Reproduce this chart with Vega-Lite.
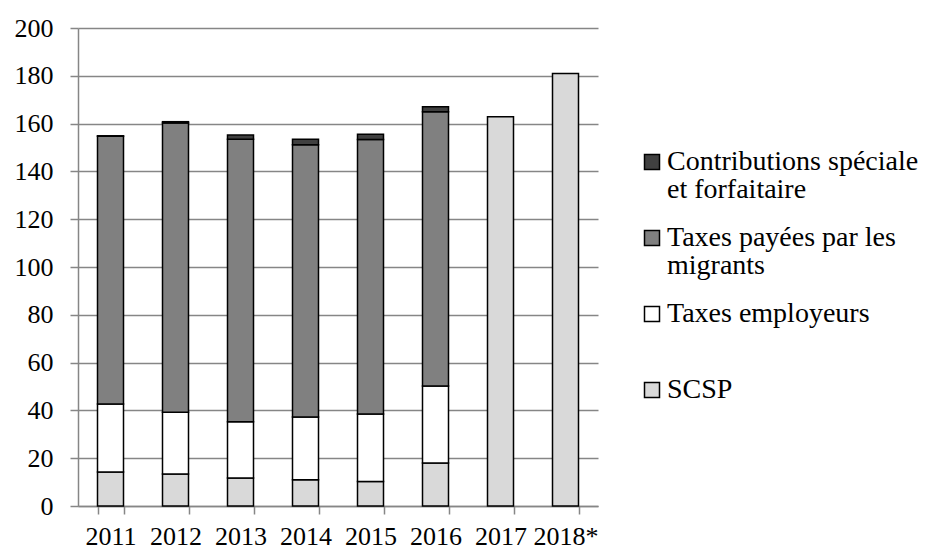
{
  "$schema": "https://vega.github.io/schema/vega-lite/v6.json",
  "autosize": {"type": "none"},
  "padding": {"left": 78, "top": 28, "right": 332, "bottom": 43},
  "width": 520,
  "height": 478,
  "background": "white",
  "config": {
    "view": {"stroke": null},
    "font": "Liberation Serif"
  },
  "data": {
    "values": [
      {"year": "2011", "category": "SCSP", "rank": 1, "value": 14.2},
      {"year": "2011", "category": "Taxes employeurs", "rank": 2, "value": 28.5},
      {"year": "2011", "category": "Taxes payées par les migrants", "rank": 3, "value": 112.0},
      {"year": "2011", "category": "Contributions spéciale et forfaitaire", "rank": 4, "value": 0.2},
      {"year": "2012", "category": "SCSP", "rank": 1, "value": 13.4},
      {"year": "2012", "category": "Taxes employeurs", "rank": 2, "value": 25.8},
      {"year": "2012", "category": "Taxes payées par les migrants", "rank": 3, "value": 121.1},
      {"year": "2012", "category": "Contributions spéciale et forfaitaire", "rank": 4, "value": 0.5},
      {"year": "2013", "category": "SCSP", "rank": 1, "value": 11.7},
      {"year": "2013", "category": "Taxes employeurs", "rank": 2, "value": 23.6},
      {"year": "2013", "category": "Taxes payées par les migrants", "rank": 3, "value": 118.2},
      {"year": "2013", "category": "Contributions spéciale et forfaitaire", "rank": 4, "value": 1.7},
      {"year": "2014", "category": "SCSP", "rank": 1, "value": 11.0},
      {"year": "2014", "category": "Taxes employeurs", "rank": 2, "value": 26.2},
      {"year": "2014", "category": "Taxes payées par les migrants", "rank": 3, "value": 114.0},
      {"year": "2014", "category": "Contributions spéciale et forfaitaire", "rank": 4, "value": 2.2},
      {"year": "2015", "category": "SCSP", "rank": 1, "value": 10.3},
      {"year": "2015", "category": "Taxes employeurs", "rank": 2, "value": 28.2},
      {"year": "2015", "category": "Taxes payées par les migrants", "rank": 3, "value": 114.8},
      {"year": "2015", "category": "Contributions spéciale et forfaitaire", "rank": 4, "value": 2.2},
      {"year": "2016", "category": "SCSP", "rank": 1, "value": 18.0},
      {"year": "2016", "category": "Taxes employeurs", "rank": 2, "value": 32.2},
      {"year": "2016", "category": "Taxes payées par les migrants", "rank": 3, "value": 114.8},
      {"year": "2016", "category": "Contributions spéciale et forfaitaire", "rank": 4, "value": 2.1},
      {"year": "2017", "category": "SCSP", "rank": 1, "value": 162.9},
      {"year": "2018*", "category": "SCSP", "rank": 1, "value": 181.0}
    ]
  },
  "mark": {"type": "bar", "stroke": "black", "strokeWidth": 1.5},
  "encoding": {
    "x": {
      "field": "year",
      "type": "nominal",
      "sort": null,
      "title": null,
      "scale": {"paddingInner": 0.6, "paddingOuter": 0.3},
      "axis": {
        "labelAngle": 0,
        "labelFontSize": 26,
        "labelColor": "black",
        "labelPadding": 9,
        "tickBand": "extent",
        "tickSize": 8,
        "tickColor": "#868686",
        "tickWidth": 1.5,
        "domainColor": "#868686",
        "domainWidth": 1.5,
        "labelBaseline": "top"
      }
    },
    "y": {
      "aggregate": "sum",
      "field": "value",
      "type": "quantitative",
      "stack": "zero",
      "title": null,
      "scale": {"domain": [0, 200], "nice": false},
      "axis": {
        "values": [0, 20, 40, 60, 80, 100, 120, 140, 160, 180, 200],
        "labelFontSize": 26,
        "labelColor": "black",
        "labelPadding": 17,
        "tickSize": 8,
        "tickColor": "#868686",
        "tickWidth": 1.5,
        "domainColor": "#868686",
        "domainWidth": 1.5,
        "gridColor": "#868686",
        "gridWidth": 1.5
      }
    },
    "color": {
      "field": "category",
      "type": "nominal",
      "scale": {
        "domain": ["Contributions spéciale et forfaitaire", "Taxes payées par les migrants", "Taxes employeurs", "SCSP"],
        "range": ["#404040", "#808080", "#ffffff", "#d9d9d9"]
      },
      "legend": {
        "title": null,
        "orient": "none",
        "legendX": 560,
        "legendY": 120,
        "symbolType": "square",
        "symbolSize": 225,
        "symbolStrokeColor": "black",
        "symbolStrokeWidth": 1.5,
        "labelFontSize": 28,
        "labelColor": "black",
        "labelLimit": 400,
        "labelOffset": 1,
        "rowPadding": 20,
        "encode": {"labels": {"update": {"lineHeight": {"value": 28}}}},
        "labelExpr": "datum.label == 'Contributions spéciale et forfaitaire' ? ['Contributions spéciale', 'et forfaitaire'] : datum.label == 'Taxes payées par les migrants' ? ['Taxes payées par les', 'migrants'] : [datum.label, '']"
      }
    },
    "order": {"field": "rank", "type": "quantitative"}
  }
}
